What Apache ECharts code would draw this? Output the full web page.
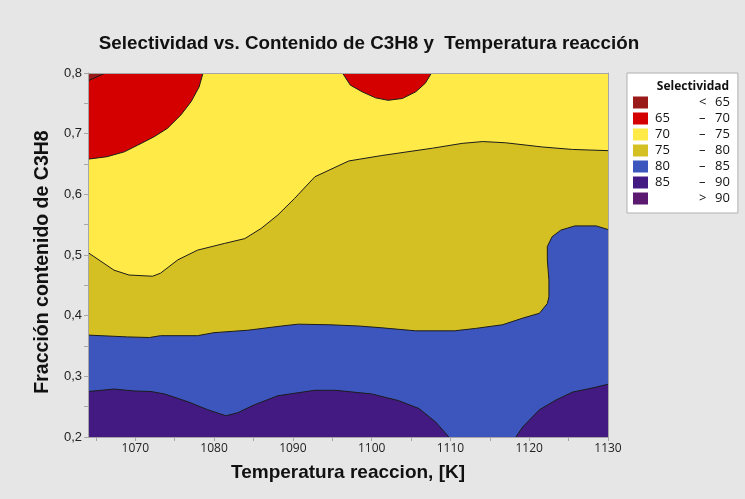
<!DOCTYPE html>
<html>
<head>
<meta charset="utf-8">
<title>Selectividad vs. Contenido de C3H8 y Temperatura reacción</title>
<script src="https://cdn.jsdelivr.net/npm/echarts@6/dist/echarts.min.js"></script>
<style>
  html, body { margin: 0; padding: 0; background: #e6e6e6; }
  #chart { width: 745px; height: 499px; }
</style>
</head>
<body>
<div id="chart"></div>
<script>
// Axis extents
const xRange = [1064, 1130];
const yRange = [0.2, 0.8];

// Tick positions and labelled values
const xTicks = [1065, 1070, 1075, 1080, 1085, 1090, 1095, 1100, 1105, 1110, 1115, 1120, 1125, 1130];
const xLabels = [1070, 1080, 1090, 1100, 1110, 1120, 1130];
const yTicks = [0.2, 0.25, 0.3, 0.35, 0.4, 0.45, 0.5, 0.55, 0.6, 0.65, 0.7, 0.75, 0.8];
const yLabels = [0.2, 0.3, 0.4, 0.5, 0.6, 0.7, 0.8];

// Contour lines [temperature K, C3H8 fraction]
const contour65 = [[1064, 0.787], [1066.2, 0.8]];
const contour70Left = [[1064, 0.658], [1066.4, 0.662], [1068.6, 0.670], [1070.3, 0.681], [1072.4, 0.695],
  [1074.1, 0.709], [1075.8, 0.731], [1077.1, 0.753], [1078.1, 0.777], [1078.6, 0.8]];
const contour70Mid = [[1096.3, 0.8], [1097.3, 0.780], [1098.8, 0.769], [1100.5, 0.759], [1102.1, 0.755],
  [1103.9, 0.758], [1105.6, 0.769], [1106.8, 0.783], [1107.6, 0.8]];
const contour75 = [[1064, 0.504], [1067.3, 0.475], [1069.2, 0.467], [1072.2, 0.465], [1073.2, 0.470],
  [1075.4, 0.492], [1077.9, 0.508], [1081.3, 0.519], [1083.9, 0.527], [1086, 0.544], [1088.1, 0.566],
  [1090.2, 0.593], [1092.8, 0.629], [1097.1, 0.655], [1101.3, 0.664], [1107.7, 0.676], [1111.5, 0.684],
  [1114.1, 0.687], [1117, 0.685], [1121.7, 0.678], [1125.5, 0.674], [1130, 0.672]];
const contour80 = [[1064, 0.368], [1069, 0.365], [1071.8, 0.364], [1073.2, 0.367], [1077.9, 0.367],
  [1080, 0.372], [1084.3, 0.376], [1088.6, 0.383], [1090.7, 0.386], [1094.7, 0.385], [1098.3, 0.383],
  [1101.3, 0.380], [1105.6, 0.375], [1110.5, 0.375], [1113.2, 0.379], [1116.6, 0.385], [1119.2, 0.396],
  [1121.3, 0.404], [1122.3, 0.420], [1122.5, 0.431], [1122.5, 0.459], [1122.3, 0.492], [1122.3, 0.514],
  [1122.9, 0.530], [1124, 0.541], [1125.8, 0.548], [1128.5, 0.548], [1130, 0.542]];
const contour85Left = [[1064, 0.275], [1067.3, 0.279], [1069.8, 0.276], [1072, 0.275], [1073.7, 0.271],
  [1076.7, 0.258], [1079.2, 0.245], [1081.5, 0.235], [1083, 0.240], [1085.1, 0.253], [1088.1, 0.268],
  [1092.8, 0.277], [1095.4, 0.277], [1100, 0.271], [1103.4, 0.260], [1106, 0.247], [1108.1, 0.225],
  [1109.8, 0.2]];
const contour85Right = [[1118.3, 0.2], [1119.2, 0.217], [1121.3, 0.245], [1123.4, 0.261], [1125.5, 0.274],
  [1128.1, 0.281], [1130, 0.287]];

// Selectivity bands, legend order
const bandNames = ['< 65', '65 – 70', '70 – 75', '75 – 80', '80 – 85', '85 – 90', '> 90'];
const bandColors = ['#9a1a1a', '#d40000', '#ffea47', '#d4c022', '#3c56be', '#431a82', '#5b1a70'];

const [x0, x1] = xRange;
const [y0, y1] = yRange;

// Filled regions per band (closed along the plot edges), painted from back to front
const bandRegions = {
  '70 – 75': [{ fill: [[x0, y0], [x1, y0], [x1, y1], [x0, y1]] }],
  '75 – 80': [{ fill: contour75.concat([[x1, y0], [x0, y0]]), edge: contour75 }],
  '80 – 85': [{ fill: contour80.concat([[x1, y0], [x0, y0]]), edge: contour80 }],
  '85 – 90': [
    { fill: contour85Left.concat([[x0, y0]]), edge: contour85Left },
    { fill: contour85Right.concat([[x1, y0]]), edge: contour85Right }
  ],
  '65 – 70': [
    { fill: contour70Left.concat([[x0, y1]]), edge: contour70Left },
    { fill: contour70Mid, edge: contour70Mid }
  ],
  '< 65': [{ fill: contour65.concat([[x0, y1]]), edge: contour65 }],
  '> 90': []
};
const paintOrder = ['70 – 75', '75 – 80', '80 – 85', '85 – 90', '65 – 70', '< 65', '> 90'];

function bandSeries(name) {
  const regions = bandRegions[name];
  const color = bandColors[bandNames.indexOf(name)];
  return {
    type: 'custom',
    name: name,
    coordinateSystem: 'cartesian2d',
    clip: true,
    itemStyle: { color: color },
    encode: { x: 0, y: 1 },
    data: regions.map(() => [x0, y0]),
    renderItem: function (params, api) {
      const region = regions[params.dataIndex];
      const children = [{
        type: 'polygon',
        shape: { points: region.fill.map(p => api.coord(p)) },
        style: { fill: color, stroke: null }
      }];
      if (region.edge) {
        children.push({
          type: 'polyline',
          shape: { points: region.edge.map(p => api.coord(p)) },
          style: { stroke: '#1c1c1c', lineWidth: 1, fill: null }
        });
      }
      return { type: 'group', children: children };
    }
  };
}

const legendParts = {
  '< 65': ['', '<', '65'],
  '65 – 70': ['65', '–', '70'],
  '70 – 75': ['70', '–', '75'],
  '75 – 80': ['75', '–', '80'],
  '80 – 85': ['80', '–', '85'],
  '85 – 90': ['85', '–', '90'],
  '> 90': ['', '>', '90']
};

const fmtComma = v => String(v).replace('.', ',');
const fmtPlain = v => String(v);
const axisGray = '#a6a6a6';

const chart = echarts.init(document.getElementById('chart'), null, { renderer: 'canvas' });
chart.setOption({
  animation: false,
  backgroundColor: '#e6e6e6',
  textStyle: { fontFamily: 'Liberation Sans, Arial, sans-serif' },
  title: [
    {
      text: 'Selectividad vs. Contenido de C3H8 y  Temperatura reacción',
      left: 364, top: 29, textAlign: 'center',
      textStyle: { fontSize: 18.8, fontWeight: 'bold', color: '#111', fontFamily: 'Liberation Sans, Arial, sans-serif' }
    },
    {
      text: 'Selectividad',
      left: 688, top: 76, textAlign: 'center',
      textStyle: { fontSize: 12, fontWeight: 'bold', color: '#111', fontFamily: 'Open Sans, sans-serif' }
    }
  ],
  legend: {
    orient: 'vertical',
    left: 627, top: 73,
    padding: [23, 8, 8, 6],
    backgroundColor: '#ffffff',
    borderColor: '#b0b0b0',
    borderWidth: 1,
    borderRadius: 0,
    icon: 'rect',
    itemWidth: 15,
    itemHeight: 12,
    itemGap: 3,
    selectedMode: false,
    z: 1,
    data: bandNames,
    formatter: function (name) {
      const p = legendParts[name];
      return '{a|' + p[0] + '}{b|' + p[1] + '}{c|' + p[2] + '}';
    },
    textStyle: {
      fontFamily: 'Open Sans, sans-serif',
      fontSize: 13,
      color: '#111',
      lineHeight: 12,
      rich: {
        a: { width: 44, align: 'left', fontSize: 13, fontFamily: 'Open Sans, sans-serif', padding: [0, 0, 0, 2] },
        b: { width: 16, align: 'left', fontSize: 13, fontFamily: 'Open Sans, sans-serif' },
        c: { align: 'left', fontSize: 13, fontFamily: 'Open Sans, sans-serif' }
      }
    }
  },
  grid: { left: 88, top: 73, right: 137, bottom: 62, show: false },
  xAxis: [
    {
      type: 'value', min: x0, max: x1, position: 'bottom', z: 5,
      name: 'Temperatura reaccion, [K]', nameLocation: 'middle', nameGap: 26,
      nameTextStyle: { fontSize: 19, fontWeight: 'bold', color: '#111', fontFamily: 'Liberation Sans, Arial, sans-serif' },
      axisLine: { show: true, lineStyle: { color: axisGray, width: 1 } },
      axisTick: { show: true, length: 4, customValues: xTicks, lineStyle: { color: axisGray } },
      axisLabel: { customValues: xLabels, formatter: fmtPlain, fontSize: 12, color: '#222', margin: 6, fontFamily: 'Open Sans, sans-serif' },
      splitLine: { show: false }
    },
    {
      type: 'value', min: x0, max: x1, position: 'top', z: 5,
      axisLine: { show: true, lineStyle: { color: axisGray, width: 1 } },
      axisTick: { show: false }, axisLabel: { show: false }, splitLine: { show: false }
    }
  ],
  yAxis: [
    {
      type: 'value', min: y0, max: y1, position: 'left', z: 5,
      name: 'Fracción contenido de C3H8', nameLocation: 'middle', nameGap: 35,
      nameTextStyle: { fontSize: 19.5, fontWeight: 'bold', color: '#111', fontFamily: 'Liberation Sans, Arial, sans-serif', padding: [0, 14, 0, 0] },
      axisLine: { show: true, lineStyle: { color: axisGray, width: 1 } },
      axisTick: { show: true, length: 4, customValues: yTicks, lineStyle: { color: axisGray } },
      axisLabel: { customValues: yLabels, formatter: fmtComma, fontSize: 13, color: '#222', margin: 6, fontFamily: 'Liberation Sans Narrow, Liberation Sans, sans-serif' },
      splitLine: { show: false }
    },
    {
      type: 'value', min: y0, max: y1, position: 'right', z: 5,
      axisLine: { show: true, lineStyle: { color: axisGray, width: 1 } },
      axisTick: { show: false }, axisLabel: { show: false }, splitLine: { show: false }
    }
  ],
  series: paintOrder.map(bandSeries)
});
</script>
</body>
</html>
